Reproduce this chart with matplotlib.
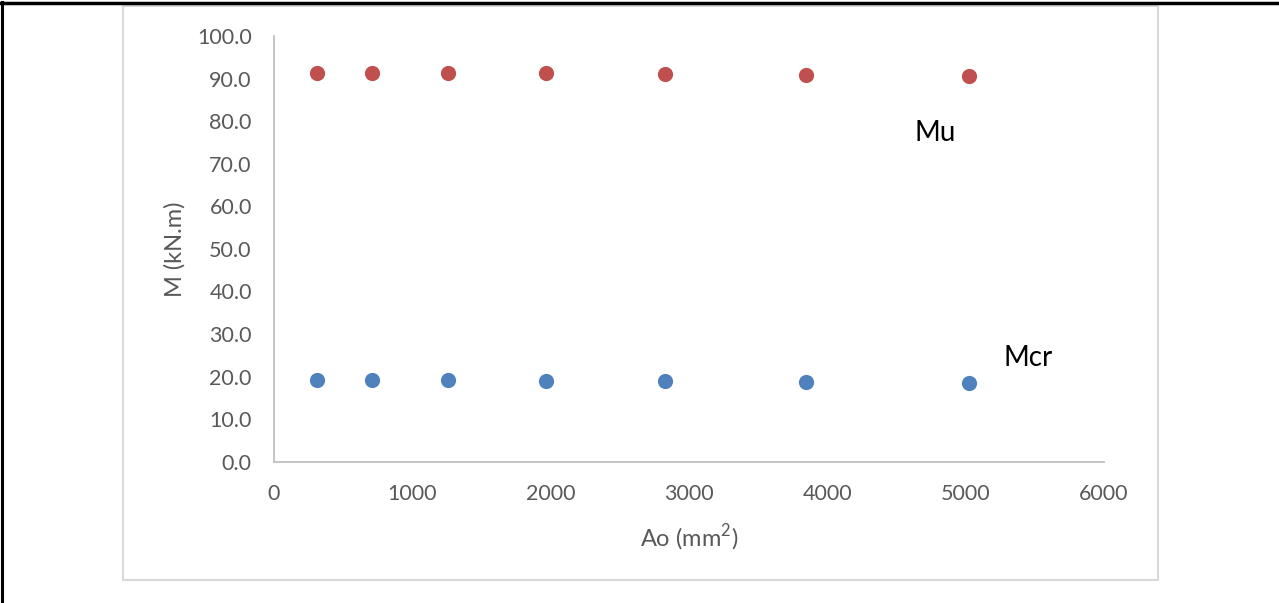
import matplotlib
matplotlib.use("Agg")
import matplotlib.pyplot as plt
from matplotlib.patches import Rectangle
from matplotlib.lines import Line2D

# Hole area Ao (mm^2) and resulting moments (kN.m)
area = [314, 707, 1257, 1963, 2827, 3848, 5027]
mu = [91.4, 91.4, 91.3, 91.2, 91.1, 90.9, 90.6]
mcr = [19.3, 19.3, 19.2, 19.0, 18.9, 18.7, 18.4]

x_ticks = [0, 1000, 2000, 3000, 4000, 5000, 6000]
y_ticks = [0, 10, 20, 30, 40, 50, 60, 70, 80, 90, 100]

W, H = 1279, 603
fig = plt.figure(figsize=(W / 100, H / 100), dpi=100)
plt.rcParams['font.family'] = ['Lato', 'DejaVu Sans']

# page frame (top and left rules) and chart-area border
fig.add_artist(Line2D([1.5 / W, 1.5 / W], [0, 1 - 2 / H], transform=fig.transFigure,
                      color='black', lw=2.2))
fig.add_artist(Line2D([0, 1], [1 - 2.5 / H, 1 - 2.5 / H], transform=fig.transFigure,
                      color='black', lw=2.5))
fig.add_artist(Rectangle((123 / W, 1 - 580 / H), (1158 - 123) / W, (580 - 6) / H,
                         transform=fig.transFigure, fill=False, edgecolor='#d9d9d9', lw=1.5))

ax = fig.add_axes([274 / W, 1 - 461.7 / H, (1104 - 274) / W, (461.7 - 36) / H])
ax.set_xlim(0, 6000)
ax.set_ylim(0, 100)

ax.scatter(area, mu, s=120, color='#C0504D', zorder=3, linewidths=0)
ax.scatter(area, mcr, s=120, color='#4F81BD', zorder=3, linewidths=0)

for side in ['top', 'right']:
    ax.spines[side].set_visible(False)
for side in ['left', 'bottom']:
    ax.spines[side].set_color('#bfbfbf')
    ax.spines[side].set_linewidth(1.3)

ax.set_xticks(x_ticks)
ax.set_yticks(y_ticks)
ax.set_yticklabels([f"{v:.1f}" for v in y_ticks])
ax.tick_params(length=0, labelsize=15.5, labelcolor='#595959')
ax.tick_params(axis='y', pad=16)
ax.tick_params(axis='x', pad=16)

ax.set_xlabel('Ao (mm$^{\\mathregular{2}}$)', fontsize=17, color='#595959', labelpad=13)
ax.set_ylabel('M (kN.m)', fontsize=17, color='#595959', labelpad=8)

ax.text(4778, 77.2, 'Mu', fontsize=20, color='black', ha='center', va='center')
ax.text(5451, 24.4, 'Mcr', fontsize=20, color='black', ha='center', va='center')

fig.savefig('out.png', dpi=100)
